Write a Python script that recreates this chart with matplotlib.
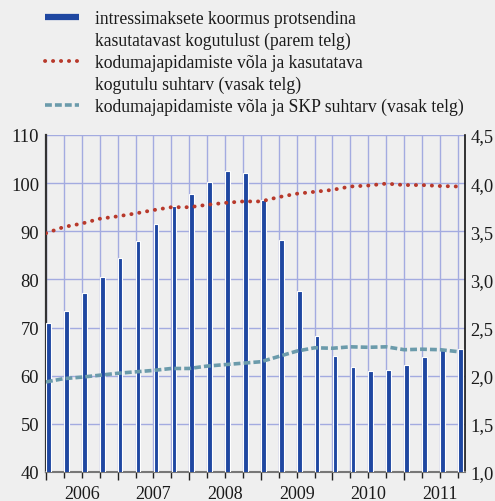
import numpy as np
import matplotlib.pyplot as plt
from matplotlib.lines import Line2D

# quarterly data 2006 Q1 - 2011 Q4
years = [2006, 2007, 2008, 2009, 2010, 2011]

# interest payment burden, % of disposable income (right axis)
interest_burden = [2.55, 2.67, 2.86, 3.03, 3.22, 3.40, 3.58, 3.76,
                   3.89, 4.01, 4.13, 4.11, 3.82, 3.41, 2.88, 2.41,
                   2.20, 2.09, 2.05, 2.06, 2.11, 2.19, 2.27, 2.28]

# household debt to disposable income (left axis)
debt_income = [89.6, 90.9, 91.6, 92.6, 93.1, 93.7, 94.4, 95.0,
               95.0, 95.5, 95.9, 96.2, 96.2, 97.1, 97.8, 98.2,
               98.6, 99.3, 99.5, 99.9, 99.6, 99.6, 99.4, 99.3]

# household debt to GDP (left axis)
debt_gdp = [58.7, 59.4, 59.7, 60.1, 60.5, 60.8, 61.1, 61.5,
            61.5, 62.0, 62.3, 62.6, 62.9, 64.0, 65.1, 65.8,
            65.7, 66.0, 65.9, 66.0, 65.4, 65.5, 65.4, 65.0]

left_ticks = [40, 50, 60, 70, 80, 90, 100, 110]
right_ticks = [1.0, 1.5, 2.0, 2.5, 3.0, 3.5, 4.0, 4.5]
right_labels = ['1,0', '1,5', '2,0', '2,5', '3,0', '3,5', '4,0', '4,5']

labels = ['intressimaksete koormus protsendina',
          'kasutatavast kogutulust (parem telg)',
          'kodumajapidamiste võla ja kasutatava',
          'kogutulu suhtarv (vasak telg)',
          'kodumajapidamiste võla ja SKP suhtarv (vasak telg)']

bar_color = '#1f47a1'
red = '#b8392b'
teal = '#6b9bab'
grid_color = '#a3abe0'
bg = '#efefef'
dots = (0, (0.05, 2.0))
dashes = (0, (1.9, 0.85))

plt.rcParams['font.family'] = ['Liberation Serif', 'DejaVu Serif']

fig = plt.figure(figsize=(4.95, 5.02), dpi=100, facecolor=bg)
ax = fig.add_axes([0.0929, 0.0578, 0.8465, 0.6713])
ax.set_facecolor(bg)

q = np.arange(len(interest_burden))

# bars (right axis scale) drawn on the bottom axes
ax.bar(q + 0.01, interest_burden, width=0.26, align='edge',
       color=bar_color, edgecolor='white', linewidth=0.8, zorder=3)
ax.set_ylim(1.0, 4.5)
ax.set_xlim(0, 23.4)
ax.set_xticks(np.arange(0, 24, 4))
ax.set_xticks(q, minor=True)
ax.tick_params(axis='x', which='major', length=6, width=1, color='#222', labelbottom=False)
ax.tick_params(axis='x', which='minor', length=4, width=1, color='#222')
ax.grid(True, which='major', axis='y', color=grid_color, lw=1, zorder=0)
ax.grid(True, which='minor', axis='x', color=grid_color, lw=1, zorder=0)
ax.grid(True, which='major', axis='x', color=grid_color, lw=1, zorder=0)
ax.set_axisbelow(True)

for y, yr in zip(range(len(years)), years):
    ax.text(4 * y + 2, -0.038, str(yr), transform=ax.get_xaxis_transform(),
            ha='center', va='top', fontsize=13, color='#1a1a1a')

ax.spines['top'].set_visible(False)
ax.spines['left'].set_color('#333333')
ax.spines['left'].set_linewidth(1.6)
ax.spines['right'].set_color('#111111')
ax.spines['right'].set_linewidth(1.2)
ax.spines['bottom'].set_color('#777777')
ax.spines['bottom'].set_linewidth(1.5)

# lines on left axis scale
ax2 = ax.twinx()
ax2.set_ylim(40, 110)
ax2.yaxis.tick_left()
ax2.set_yticks(left_ticks)
ax2.tick_params(axis='y', length=0, pad=5, labelsize=13.3, colors='#1a1a1a')
for s in ax2.spines.values():
    s.set_visible(False)

# twinx moves the first axes' ticks to the left, put them back on the right
ax.yaxis.tick_right()
ax.set_yticks(right_ticks, right_labels)
ax.tick_params(axis='y', length=0, pad=4, labelsize=13.3, colors='#1a1a1a')

ax2.plot(q, debt_income, color=red, lw=2.8, linestyle=dots,
         dash_capstyle='round', zorder=4)
ax2.plot(q, debt_gdp, color=teal, lw=2.6, linestyle=dashes,
         dash_capstyle='butt', zorder=4)

# legend, continuation lines get empty handles
blank = Line2D([], [], color='none')
handles = [Line2D([], [], color=bar_color, lw=4.5, solid_capstyle='butt'), blank,
           Line2D([], [], color=red, lw=2.8, linestyle=dots, dash_capstyle='round'), blank,
           Line2D([], [], color=teal, lw=2.6, linestyle=dashes)]
fig.legend(handles, labels, loc='upper left', bbox_to_anchor=(0.091, 0.978),
           frameon=False, fontsize=12.7, handlelength=1.9, handletextpad=0.95,
           labelspacing=0.27, borderpad=0, borderaxespad=0, labelcolor='#1a1a1a')

fig.savefig('out.png', dpi=100, facecolor=bg)
